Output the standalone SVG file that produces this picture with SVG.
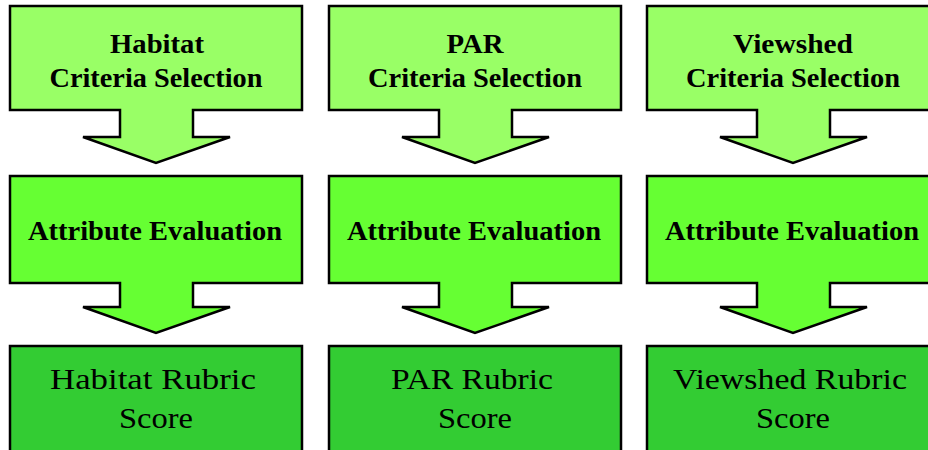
<svg xmlns="http://www.w3.org/2000/svg" width="928" height="450" viewBox="0 0 928 450">
<style>
.top{fill:#99ff66;stroke:#000;stroke-width:2.5;stroke-linejoin:miter}
.mid{fill:#66ff33;stroke:#000;stroke-width:2.5;stroke-linejoin:miter}
.bot{fill:#33cc33;stroke:#000;stroke-width:2.5}
.b{font-family:"Liberation Serif","Times New Roman",serif;font-weight:bold;font-size:28px;fill:#000;text-anchor:middle}
.r{font-family:"Liberation Serif","Times New Roman",serif;font-size:29px;fill:#000;text-anchor:middle}
</style>
<defs>
<path id="callTop" d="M10,6 H302 V110 H193 V137 H230 L156,163 L83,137 H120 V110 H10 Z"/>
<path id="callMid" d="M10,176 H302 V283 H193 V307 H230 L156,333 L83,307 H120 V283 H10 Z"/>
</defs>
<g id="connectors"></g>
<g id="habitat-criteria"><use href="#callTop" class="top"/>
<text class="b" x="157" y="53" textLength="94" lengthAdjust="spacingAndGlyphs">Habitat</text>
<text class="b" x="156" y="87" textLength="213" lengthAdjust="spacingAndGlyphs">Criteria Selection</text></g>
<g id="habitat-attr"><use href="#callMid" class="mid"/>
<text class="b" x="155" y="240" textLength="254" lengthAdjust="spacingAndGlyphs">Attribute Evaluation</text></g>
<g id="habitat-score"><rect x="10" y="346" width="292" height="120" class="bot"/>
<text class="r" x="153" y="389" textLength="206" lengthAdjust="spacingAndGlyphs">Habitat Rubric</text>
<text class="r" x="156" y="428" textLength="74" lengthAdjust="spacingAndGlyphs">Score</text></g>

<g id="par-criteria" transform="translate(319,0)"><use href="#callTop" class="top"/>
<text class="b" x="156" y="53" textLength="57" lengthAdjust="spacingAndGlyphs">PAR</text>
<text class="b" x="156" y="87" textLength="214" lengthAdjust="spacingAndGlyphs">Criteria Selection</text></g>
<g id="par-attr" transform="translate(319,0)"><use href="#callMid" class="mid"/>
<text class="b" x="155" y="240" textLength="254" lengthAdjust="spacingAndGlyphs">Attribute Evaluation</text></g>
<g id="par-score" transform="translate(319,0)"><rect x="10" y="346" width="292" height="120" class="bot"/>
<text class="r" x="153" y="389" textLength="162" lengthAdjust="spacingAndGlyphs">PAR Rubric</text>
<text class="r" x="156" y="428" textLength="74" lengthAdjust="spacingAndGlyphs">Score</text></g>

<g id="viewshed-criteria" transform="translate(637,0)"><use href="#callTop" class="top"/>
<text class="b" x="156" y="53" textLength="120" lengthAdjust="spacingAndGlyphs">Viewshed</text>
<text class="b" x="156" y="87" textLength="214" lengthAdjust="spacingAndGlyphs">Criteria Selection</text></g>
<g id="viewshed-attr" transform="translate(637,0)"><use href="#callMid" class="mid"/>
<text class="b" x="155" y="240" textLength="254" lengthAdjust="spacingAndGlyphs">Attribute Evaluation</text></g>
<g id="viewshed-score" transform="translate(637,0)"><rect x="10" y="346" width="292" height="120" class="bot"/>
<text class="r" x="153" y="389" textLength="234" lengthAdjust="spacingAndGlyphs">Viewshed Rubric</text>
<text class="r" x="156" y="428" textLength="74" lengthAdjust="spacingAndGlyphs">Score</text></g>
</svg>
